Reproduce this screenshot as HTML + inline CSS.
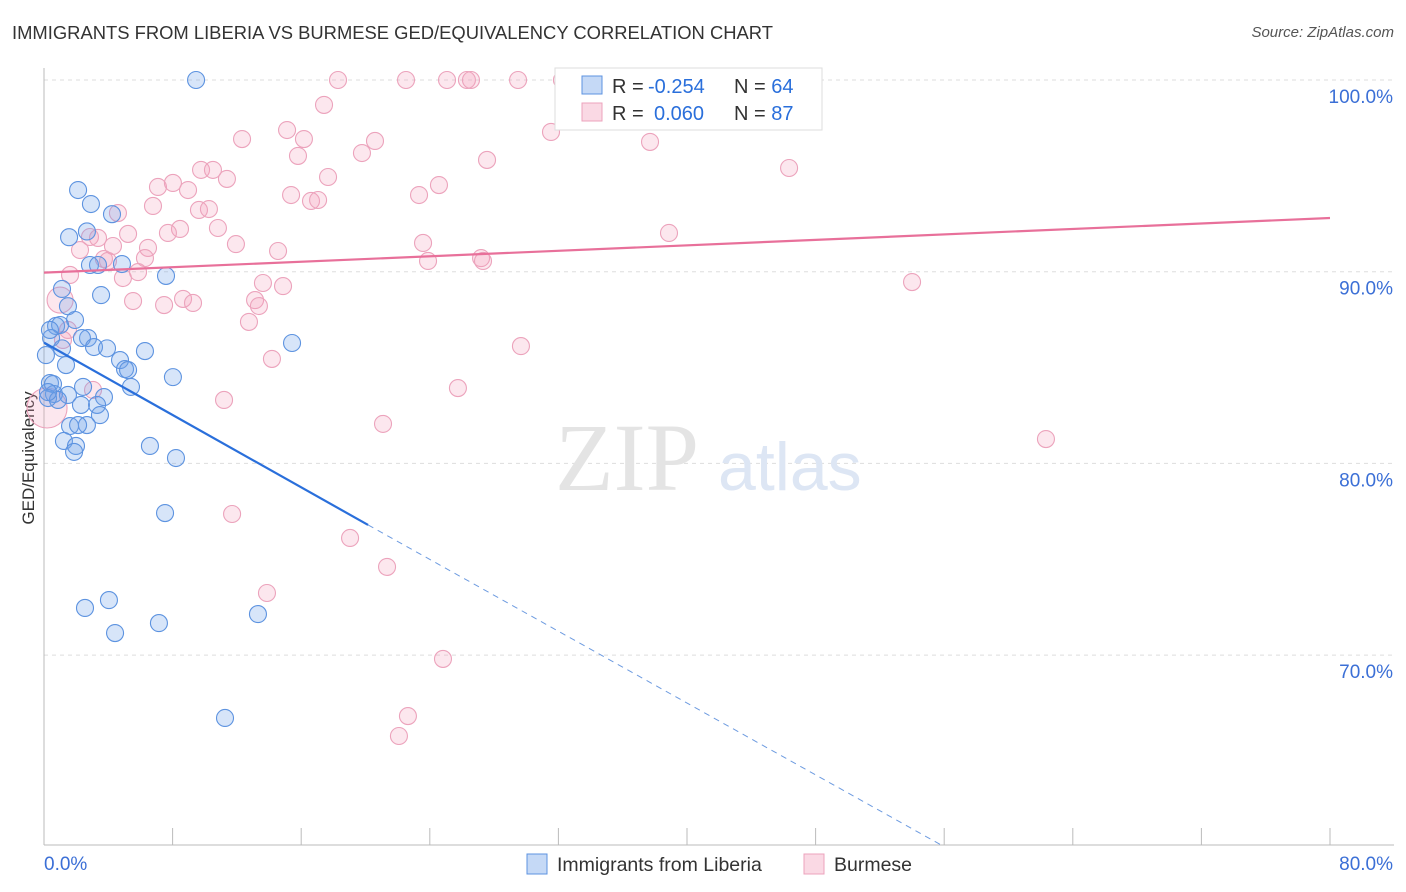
<!DOCTYPE html>
<html><head><meta charset="utf-8">
<style>
body{margin:0;background:#fff;font-family:"Liberation Sans",sans-serif;}
#wrap{position:relative;width:1406px;height:892px;overflow:hidden;}
.t{position:absolute;white-space:nowrap;}
</style></head>
<body>
<div id="wrap">
<div class="t" style="left:12px;top:22px;font-size:18.4px;color:#333;">IMMIGRANTS FROM LIBERIA VS BURMESE GED/EQUIVALENCY CORRELATION CHART</div>
<div class="t" style="right:12px;top:24px;font-size:15px;color:#555;font-style:italic;">Source: ZipAtlas.com</div>
<svg id="svg" width="1406" height="892" style="position:absolute;left:0;top:0"></svg>
</div>
<script>
const yTicks=[100,90,80,70];
const xTickLabels=["0.0%","80.0%"];
const blueX=[9.46,2.12,2.92,4.23,1.56,2.67,2.86,3.36,4.85,7.59,1.12,3.55,1.49,1.93,0.75,1.0,0.44,2.74,2.36,1.12,3.11,3.92,6.28,15.43,4.73,1.37,5.04,5.23,8.02,0.37,0.56,2.43,5.41,0.62,1.49,3.73,0.25,0.87,2.3,3.3,3.48,1.62,2.67,2.12,1.24,1.99,1.87,6.59,8.21,7.53,4.04,2.55,4.42,7.15,13.31,11.26,0.25,0.37,0.12];
const blueY=[100,94.26,93.53,93.0,91.8,92.1,90.35,90.35,90.4,89.78,89.1,88.78,88.2,87.48,87.17,87.22,86.54,86.54,86.54,86.0,86.07,86.0,85.86,86.28,85.39,85.13,84.92,84.87,84.5,84.19,84.14,83.99,83.99,83.62,83.57,83.46,83.41,83.31,83.05,83.05,82.52,81.95,82.0,82.0,81.17,80.91,80.6,80.91,80.28,77.41,72.87,72.46,71.15,71.67,72.14,66.72,83.72,86.96,85.65];
const pinkX=[18.29,22.52,25.07,26.31,26.56,29.49,32.22,17.42,15.12,12.32,16.17,20.59,31.54,37.7,19.78,15.8,27.56,46.35,9.77,10.51,11.38,17.67,24.57,7.09,8.02,8.96,15.37,16.61,17.05,23.33,6.78,4.6,9.64,10.26,10.82,8.46,7.71,5.23,2.86,3.36,38.88,11.94,4.29,6.47,2.24,14.56,23.58,27.19,27.31,23.89,3.73,3.98,6.28,5.85,1.62,4.91,13.62,14.87,54.0,1.0,5.54,8.65,9.27,7.47,13.13,13.37,12.75,14.18,29.67,25.75,11.2,21.09,62.33,19.04,11.7,21.34,13.87,24.82,22.64,22.08,0.19,1.18,1.49,3.05];
const pinkY=[100,100,100,100,100,100,100,98.7,97.39,96.92,96.92,96.82,97.29,96.77,96.19,96.04,95.83,95.41,95.31,95.31,94.84,94.94,94.52,94.42,94.63,94.26,94.0,93.69,93.74,94.0,93.43,93.06,93.22,93.27,92.28,92.23,92.02,91.97,91.81,91.76,92.02,91.44,91.34,91.24,91.13,91.08,91.5,90.71,90.56,90.56,90.66,90.56,90.71,89.98,89.83,89.67,89.41,89.25,89.46,88.52,88.47,88.58,88.37,88.26,88.52,88.21,87.38,85.45,86.12,83.93,83.31,82.06,81.27,76.11,77.36,74.6,73.24,69.8,66.82,65.78,82.89,86.44,86.96,83.83];
const pinkR=[];pinkR[80]=20;pinkR[59]=13;
const blueTrend=[[0,86.3],[20.16,76.79],[55.8,60.1]];
const pinkTrend=[[0,89.95],[80,92.8]];
const legR=["-0.254","0.060"],legN=["64","87"];

const X0=44,X1=1330,xs=v=>X0+v/80*(X1-X0);
const ys=v=>80+(100-v)*19.17;
const svg=document.getElementById('svg');const NS="http://www.w3.org/2000/svg";
function mk(t,a,p){const e=document.createElementNS(NS,t);for(const k in a)e.setAttribute(k,a[k]);(p||svg).appendChild(e);return e;}
yTicks.forEach(v=>{const l=mk('line',{x1:X0,x2:1394,y1:ys(v),y2:ys(v),stroke:'#ddd','stroke-dasharray':'4,4'});


const t=mk('text',{x:1393,y:ys(v)+23,'text-anchor':'end','font-size':19,fill:'#3b6fd6','font-family':'Liberation Sans'});t.textContent=v.toFixed(1)+'%';

});
mk('line',{x1:X0,x2:X0,y1:68,y2:845,stroke:'#bbb'});
mk('line',{x1:X0,x2:1394,y1:845,y2:845,stroke:'#bbb'});
for(let i=0;i<=10;i++){const x=xs(i*8);const l=mk('line',{x1:x,x2:x,y1:828,y2:845,stroke:'#bbb'});

}
[[44,'start'],[1393,'end']].forEach((p,i)=>{const t=mk('text',{x:p[0],y:870,'text-anchor':p[1],'font-size':19,fill:'#3b6fd6','font-family':'Liberation Sans'});t.textContent=xTickLabels[i];

});
const yt=mk('text',{x:34,y:458,transform:'rotate(-90 34 458)','text-anchor':'middle','font-size':17,fill:'#333','font-family':'Liberation Sans'});yt.textContent='GED/Equivalency';


const w=mk('text',{x:555,y:490,'font-size':96,fill:'#e4e4e4','font-family':'Liberation Serif'});w.textContent='ZIP';


const w2=mk('text',{x:718,y:490,'font-size':68,fill:'#dde6f4','font-family':'Liberation Sans'});w2.textContent='atlas';


pinkX.forEach((v,i)=>{const c=mk('circle',{cx:xs(v),cy:ys(pinkY[i]),r:pinkR[i]||8.5,fill:'rgba(242,160,188,0.25)',stroke:'#eca3bc','stroke-width':1.1});

});
blueX.forEach((v,i)=>{const c=mk('circle',{cx:xs(v),cy:ys(blueY[i]),r:8.5,fill:'rgba(110,160,232,0.28)',stroke:'#5d93e0','stroke-width':1.1});

});
const b1=mk('line',{x1:xs(blueTrend[0][0]),y1:ys(blueTrend[0][1]),x2:xs(blueTrend[1][0]),y2:ys(blueTrend[1][1]),stroke:'#2a6fdb','stroke-width':2.2});


const b2=mk('line',{x1:xs(blueTrend[1][0]),y1:ys(blueTrend[1][1]),x2:xs(blueTrend[2][0]),y2:ys(blueTrend[2][1]),stroke:'#6d9be0','stroke-width':1,'stroke-dasharray':'6,5'});


const p1=mk('line',{x1:xs(pinkTrend[0][0]),y1:ys(pinkTrend[0][1]),x2:xs(pinkTrend[1][0]),y2:ys(pinkTrend[1][1]),stroke:'#e8709a','stroke-width':2.2});


const lg=mk('rect',{x:555,y:68,width:267,height:62,fill:'#fff',stroke:'#ddd'});


[['rgba(110,160,232,0.4)','#5d93e0'],['rgba(242,160,188,0.4)','#eca3bc']].forEach((c,i)=>{const y=76+i*27;
const r=mk('rect',{x:582,y:y,width:20,height:18,fill:c[0],stroke:c[1]});


const t=mk('text',{x:612,y:y+17,'font-size':20,fill:'#333','font-family':'Liberation Sans'});
t.innerHTML='R = <tspan fill="#2a6fdb" x="'+(i?654:648)+'">'+legR[i]+'</tspan><tspan x="734">N = </tspan><tspan fill="#2a6fdb">'+legN[i]+'</tspan>';

});
[['rgba(110,160,232,0.4)','#5d93e0',527,'Immigrants from Liberia'],['rgba(242,160,188,0.4)','#eca3bc',804,'Burmese']].forEach(d=>{
const r=mk('rect',{x:d[2],y:854,width:20,height:20,fill:d[0],stroke:d[1]});


const t=mk('text',{x:d[2]+30,y:871,'font-size':19.5,fill:'#333','font-family':'Liberation Sans'});t.textContent=d[3];

});
</script>
</body></html>
